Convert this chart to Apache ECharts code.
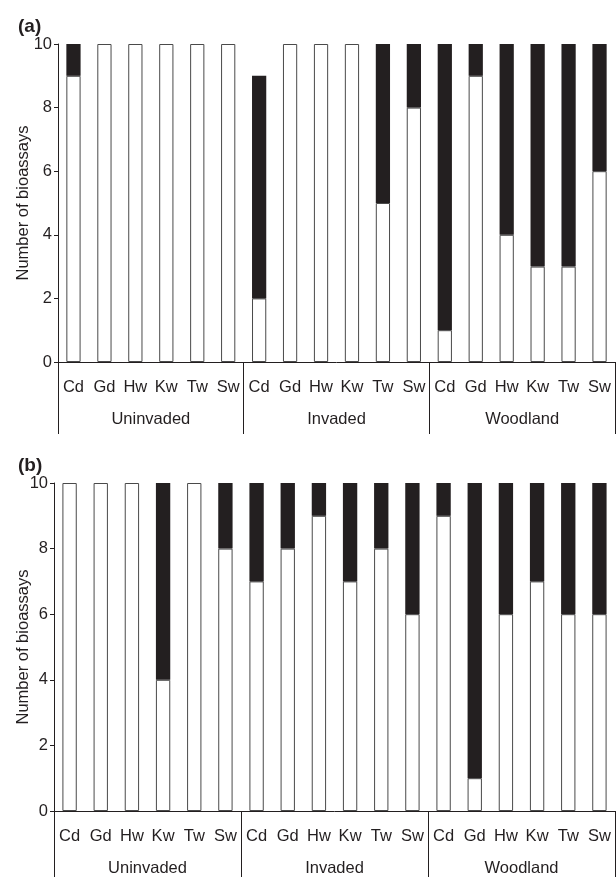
<!DOCTYPE html>
<html>
<head>
<meta charset="utf-8">
<script src="https://cdn.jsdelivr.net/npm/echarts@6/dist/echarts.min.js"></script>
<style>
html,body{margin:0;padding:0;background:#fff;}
#chart{width:616px;height:877px;}
</style>
</head>
<body>
<div id="chart"></div>
<script>
// Categories
const species = ['Cd','Gd','Hw','Kw','Tw','Sw','Cd','Gd','Hw','Kw','Tw','Sw','Cd','Gd','Hw','Kw','Tw','Sw'];
const groups = ['Uninvaded','Invaded','Woodland'];
const yTicks = [0, 2, 4, 6, 8, 10];

// Panel (a): white (lower) and black (upper) segments
const aWhite = [9,10,10,10,10,10, 2,10,10,10,5,8, 1,9,4,3,3,6];
const aBlack = [1,0,0,0,0,0, 7,0,0,0,5,2, 9,1,6,7,7,4];
// Panel (b)
const bWhite = [10,10,10,4,10,8, 7,8,9,7,8,6, 9,1,6,7,6,6];
const bBlack = [0,0,0,6,0,2, 3,2,1,3,2,4, 1,9,4,3,4,4];

const FONT = 'Liberation Sans, Arial, Helvetica, sans-serif';
const INK = '#231f20';
const FS = 16.5;

function catAxis(gi) {
  return {
    type: 'category', gridIndex: gi, data: species, position: 'bottom',
    axisLine: {show: true, lineStyle: {color: INK, width: 1}},
    axisTick: {show: false},
    axisLabel: {interval: 0, margin: 17, color: INK, fontSize: FS, fontFamily: FONT}
  };
}
function groupAxis(gi) {
  return {
    type: 'category', gridIndex: gi, data: groups, position: 'bottom',
    axisLine: {show: false},
    axisTick: {show: true, length: 72, interval: 0, alignWithLabel: false, lineStyle: {color: INK, width: 1}},
    axisLabel: {interval: 0, margin: 49, color: INK, fontSize: FS, fontFamily: FONT}
  };
}
function valAxis(gi, gap) {
  return {
    type: 'value', gridIndex: gi, min: yTicks[0], max: yTicks[yTicks.length-1], interval: 2,
    name: 'Number of bioassays', nameLocation: 'middle', nameGap: gap, nameMoveOverlap: false,
    nameTextStyle: {color: INK, fontSize: FS, fontFamily: FONT},
    axisLine: {show: true, lineStyle: {color: INK, width: 1}},
    axisTick: {show: true, inside: false, length: 4, lineStyle: {color: INK}},
    axisLabel: {margin: 6, color: INK, fontSize: FS, fontFamily: FONT},
    splitLine: {show: false}
  };
}
function bars(gi, white, black) {
  return [
    {type: 'bar', xAxisIndex: gi*2, yAxisIndex: gi, stack: 's'+gi, data: white, barWidth: '46%',
     itemStyle: {color: '#ffffff', borderColor: '#4a4a4a', borderWidth: 1}, silent: true, animation: false},
    {type: 'bar', xAxisIndex: gi*2, yAxisIndex: gi, stack: 's'+gi, data: black, barWidth: '46%',
     itemStyle: {color: INK, borderWidth: 0}, silent: true, animation: false}
  ];
}

const chart = echarts.init(document.getElementById('chart'), null, {renderer: 'canvas'});
chart.setOption({
  backgroundColor: '#ffffff',
  animation: false,
  title: [
    {text: '(a)', left: 13, top: 12, textStyle: {fontSize: 19, fontWeight: 'bold', color: INK, fontFamily: FONT}},
    {text: '(b)', left: 13, top: 451, textStyle: {fontSize: 19, fontWeight: 'bold', color: INK, fontFamily: FONT}}
  ],
  grid: [
    {left: 58, top: 44, width: 557, height: 318},
    {left: 54, top: 483, width: 561, height: 329}
  ],
  xAxis: [catAxis(0), groupAxis(0), catAxis(1), groupAxis(1)],
  yAxis: [valAxis(0, 26), valAxis(1, 22)],
  series: [].concat(bars(0, aWhite, aBlack), bars(1, bWhite, bBlack))
});
</script>
</body>
</html>
